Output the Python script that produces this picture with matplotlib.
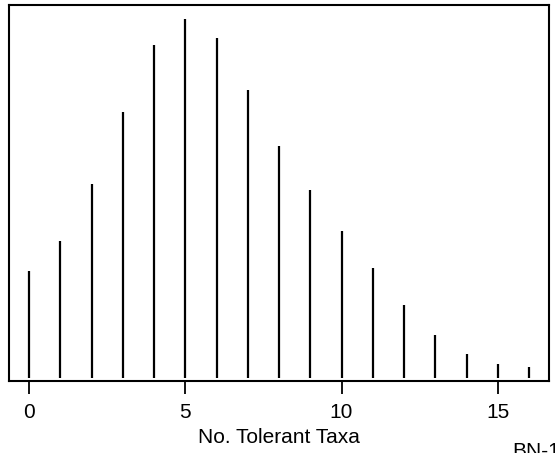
import matplotlib
matplotlib.use("Agg")
import matplotlib.pyplot as plt

# number of tolerant taxa and relative frequency
taxa = list(range(17))
freq = [107, 137, 193, 265, 332, 358, 339, 287, 231, 187, 147, 110, 73, 43, 24, 14, 11]
xticks = [0, 5, 10, 15]

plt.rcParams['font.family'] = ['Liberation Sans', 'DejaVu Sans']

fig = plt.figure(figsize=(5.55, 4.53), dpi=100)
ax = fig.add_axes([9/555, 72/453, 540/555, 376/453])

ax.vlines(taxa, 0, freq, colors='black', linewidth=1.6)

# R style limits: 4% padding around data range
rx = max(taxa) - min(taxa)
ry = max(freq) - min(freq)
ax.set_xlim(min(taxa) - 0.04*rx, max(taxa) + 0.04*rx)
ax.set_ylim(min(freq) - 0.04*ry, max(freq) + 0.04*ry)

ax.set_yticks([])
ax.set_xticks(xticks)
ax.tick_params(axis='x', length=9.5, width=1.3, labelsize=15, pad=6)
for s in ax.spines.values():
    s.set_linewidth(1.5)

ax.set_xlabel('No. Tolerant Taxa', fontsize=15, labelpad=5)
# page tag in the corner, partly off the page as in the source figure
fig.text(512/555, 1 - 442/453, 'BN-1', fontsize=15, va='top', ha='left')

fig.savefig('out.png', dpi=100)
